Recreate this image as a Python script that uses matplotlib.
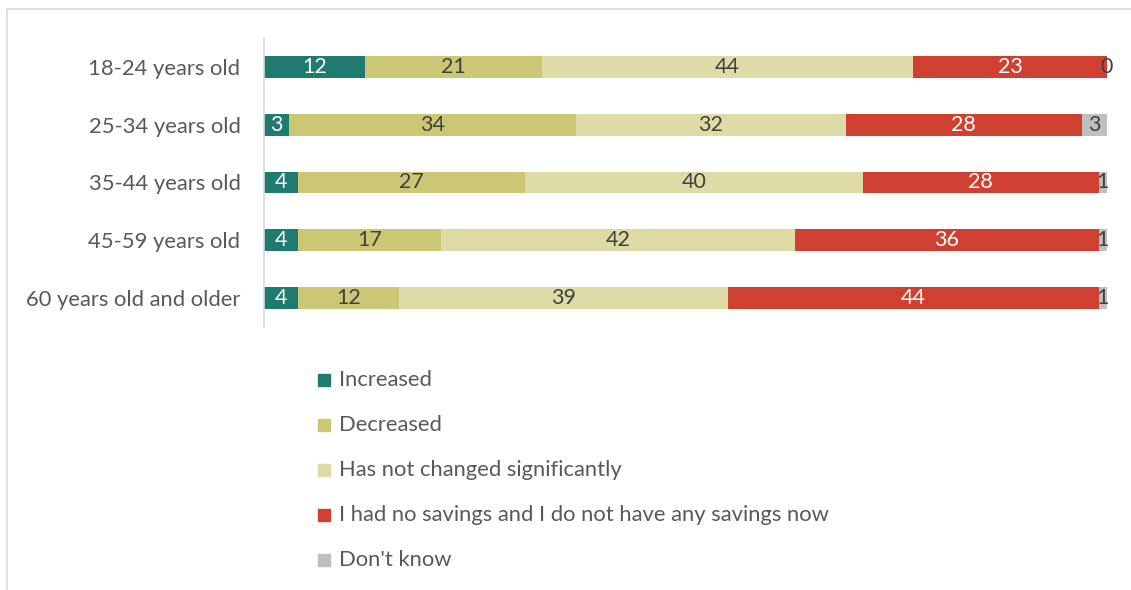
import matplotlib.pyplot as plt
from matplotlib.patches import Rectangle
from matplotlib.lines import Line2D

plt.rcParams['font.family'] = ['Lato', 'DejaVu Sans']

ages = ['18-24 years old', '25-34 years old', '35-44 years old',
        '45-59 years old', '60 years old and older']
increased = [12, 3, 4, 4, 4]
decreased = [21, 34, 27, 17, 12]
unchanged = [44, 32, 40, 42, 39]
no_savings = [23, 28, 28, 36, 44]
dont_know = [0, 3, 1, 1, 1]

series = [
    ('Increased', increased, '#1F7A70', 'white'),
    ('Decreased', decreased, '#CCC774', '#404040'),
    ('Has not changed significantly', unchanged, '#DEDBA6', '#404040'),
    ('I had no savings and I do not have any savings now', no_savings, '#D04030', 'white'),
    ("Don't know", dont_know, '#BFBFBF', '#404040'),
]

fig = plt.figure(figsize=(11.31, 5.90), dpi=100)
# outer chart frame
fig.add_artist(Line2D([7 / 1131, 7 / 1131], [0, 1 - 9 / 590], color='#D9D9D9', lw=1.2))
fig.add_artist(Line2D([7 / 1131, 1], [1 - 9 / 590, 1 - 9 / 590], color='#D9D9D9', lw=1.2))

ax = fig.add_axes([264 / 1131, 1 - 327 / 590, (1107 - 264) / 1131, 289 / 590])
ypos = list(range(len(ages)))
left = [0] * len(ages)
for name, vals, color, tcolor in series:
    ax.barh(ypos, vals, left=left, height=0.38, color=color, label=name)
    for y, v, l in zip(ypos, vals, left):
        x = l + v / 2 if v > 0 else l
        ax.text(x, y, str(v), ha='center', va='center', fontsize=15.5, color=tcolor)
    left = [a + b for a, b in zip(left, vals)]

ax.set_xlim(0, 100)
ax.set_ylim(len(ages) - 0.5, -0.5)
ax.set_yticks(ypos)
ax.set_yticklabels(ages, fontsize=15.8, color='#595959')
ax.tick_params(axis='y', length=0, pad=17)
ax.set_xticks([])
for s in ['top', 'right', 'bottom']:
    ax.spines[s].set_visible(False)
ax.spines['left'].set_color('#D9D9D9')
ax.spines['left'].set_linewidth(1.2)

# legend, one entry per row
for i, (name, vals, color, tcolor) in enumerate(series):
    yc = 380 + i * 45
    fig.add_artist(Rectangle((318 / 1131, 1 - (yc + 6) / 590), 12 / 1131, 12 / 590,
                             color=color, transform=fig.transFigure))
    fig.text(339 / 1131, 1 - yc / 590, name, ha='left', va='center',
             fontsize=15.8, color='#595959')

fig.savefig('out.png', dpi=100, facecolor='white')
